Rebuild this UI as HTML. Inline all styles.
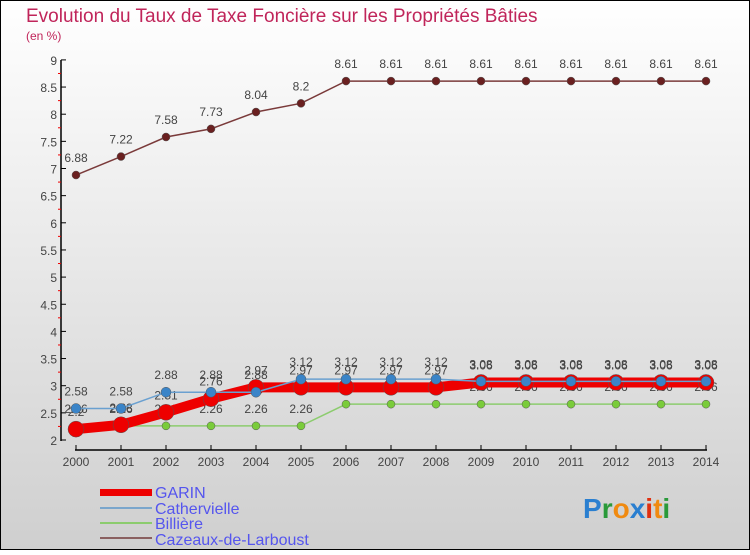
<!DOCTYPE html>
<html><head><meta charset="utf-8"><style>
html,body{margin:0;padding:0}
body{width:750px;height:550px;overflow:hidden;font-family:"Liberation Sans",sans-serif}
</style></head><body>
<svg id="chart" width="750" height="550" xmlns="http://www.w3.org/2000/svg" font-family="Liberation Sans, sans-serif">
<defs><linearGradient id="bg" x1="0" y1="0" x2="0" y2="1"><stop offset="0" stop-color="#ffffff"/><stop offset="1" stop-color="#cfcfcf"/></linearGradient></defs>
<rect x="0.5" y="0.5" width="749" height="549" fill="url(#bg)" stroke="#000"/>
<text x="26" y="22" font-size="19" fill="#c0255a">Evolution du Taux de Taxe Foncière sur les Propriétés Bâties</text>
<text x="26" y="40" font-size="12" fill="#c0255a">(en %)</text>
<g id="axes"></g><g id="series"></g>
<g font-size="16" fill="#5555ee">
<rect x="100" y="489" width="52" height="7" fill="#ee0000"/><text x="155" y="498" fill="#5555ee">GARIN</text>
<rect x="100" y="507" width="52" height="2" fill="#7aa6cc"/><text x="155" y="514" fill="#5555ee">Cathervielle</text>
<rect x="100" y="522" width="52" height="2" fill="#8ccc6e"/><text x="155" y="529" fill="#5555ee">Billière</text>
<rect x="100" y="537" width="52" height="2" fill="#8a6060"/><text x="155" y="545" fill="#5555ee">Cazeaux-de-Larboust</text>
</g>
<g font-size="28" font-weight="bold">
<text x="583" y="518"><tspan fill="#2a7fd0">P</tspan><tspan fill="#2a9a3a">r</tspan><tspan fill="#f08a10">o</tspan><tspan fill="#2a7fd0">x</tspan><tspan fill="#e03010">i</tspan><tspan fill="#f08a10">t</tspan><tspan fill="#2a9a3a">i</tspan></text>
</g>
</svg>
<script>
const years=[2000,2001,2002,2003,2004,2005,2006,2007,2008,2009,2010,2011,2012,2013,2014];
const garin=[2.2,2.28,2.51,2.76,2.97,2.97,2.97,2.97,2.97,3.06,3.06,3.06,3.06,3.06,3.06];
const cathervielle=[2.58,2.58,2.88,2.88,2.88,3.12,3.12,3.12,3.12,3.08,3.08,3.08,3.08,3.08,3.08];
const billiere=[2.26,2.26,2.26,2.26,2.26,2.26,2.66,2.66,2.66,2.66,2.66,2.66,2.66,2.66,2.66];
const cazeaux=[6.88,7.22,7.58,7.73,8.04,8.2,8.61,8.61,8.61,8.61,8.61,8.61,8.61,8.61,8.61];
const yTicks=[2,2.5,3,3.5,4,4.5,5,5.5,6,6.5,7,7.5,8,8.5,9];
const NS="http://www.w3.org/2000/svg";
const x=i=>76+i*45;
const y=v=>440-(v-2)*54.3;
function mk(tag,attrs,parent){const e=document.createElementNS(NS,tag);for(const k in attrs)e.setAttribute(k,attrs[k]);parent.appendChild(e);return e;}
const axes=document.getElementById('axes'),ser=document.getElementById('series');
let a=mk('line',{x1:61,y1:60,x2:61,y2:441,stroke:'#000','stroke-width':1.5},axes);


a=mk('line',{x1:75,y1:450,x2:707,y2:450,stroke:'#000','stroke-width':1.5},axes);


yTicks.forEach(v=>{
 const t=mk('text',{x:57,y:y(v)+5,'text-anchor':'end','font-size':12,fill:'#444'},axes);t.textContent=String(v);
 
 
 mk('line',{x1:61,y1:y(v),x2:66,y2:y(v),stroke:'#000'},axes);
 if(v<9){mk('line',{x1:58,y1:y(v+0.25),x2:61,y2:y(v+0.25),stroke:'#e00'},axes);}
});
years.forEach((yr,i)=>{
 mk('line',{x1:x(i),y1:445,x2:x(i),y2:450,stroke:'#000'},axes);
 const t=mk('text',{x:x(i),y:466,'text-anchor':'middle','font-size':12,fill:'#444'},axes);t.textContent=yr;
 
 
});
function series(vals,color,w,r,name,dotColor){
 const g=mk('g',{},ser);
 
 
 mk('polyline',{points:vals.map((v,i)=>x(i)+','+y(v)).join(' '),fill:'none',stroke:color,'stroke-width':w},g);
 vals.forEach((v,i)=>{
  const c=mk('circle',{cx:x(i),cy:y(v),r:r,fill:dotColor,stroke:'#555','stroke-width':0.5},g);
  
  
  const t=mk('text',{x:x(i),y:y(v)-13,'text-anchor':'middle','font-size':12,fill:'#444'},g);t.textContent=String(v);
  
  
 });
}
series(cazeaux,'#7a3a3a',1.5,4,'cazeaux-series','#6a2020');
series(billiere,'#8ccc6e',1.5,4,'billiere-series','#7acc3a');
series(garin,'#ee0000',10,8,'garin-series','#ee0000');
series(cathervielle,'#6aa0d0',1.5,5,'cathervielle-series','#3a84c8');
</script>
</body></html>
